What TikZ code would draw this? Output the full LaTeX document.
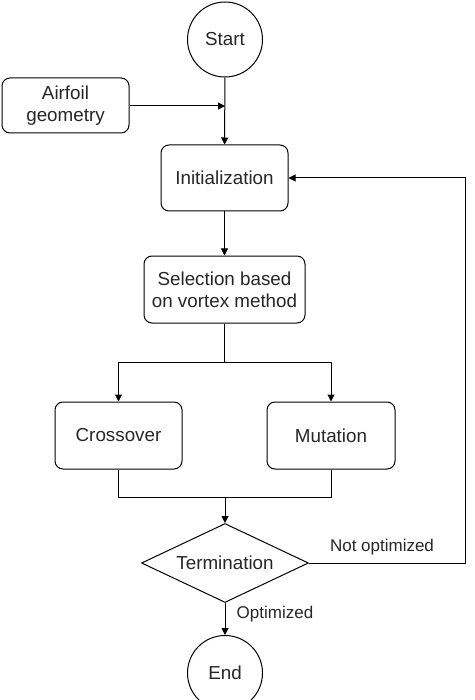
\documentclass[tikz,border=0pt]{standalone}
\usepackage{fontspec}
\setmainfont{Liberation Sans}
\usetikzlibrary{shapes.geometric,arrows.meta}
\begin{document}
\begin{tikzpicture}[x=1pt,y=-1pt,
  every node/.style={font=\fontsize{18.8}{22}\selectfont, text=black!85},
  box/.style={draw, rounded corners=8pt, line width=1pt, align=center, inner sep=0pt},
  term/.style={draw, circle, line width=1pt, minimum size=75pt, inner sep=0pt},
  dec/.style={draw, diamond, aspect=2.1, line width=1pt, minimum width=167pt, minimum height=79pt, inner sep=0pt},
  conn/.style={line width=1pt, -{Triangle[length=7pt,width=7pt]}},
  plain/.style={line width=1pt},
  lbl/.style={font=\fontsize{17}{20}\selectfont}
]
\useasboundingbox (0,0) rectangle (474,700);
\clip (0,0) rectangle (474,700);
\node[term] (start) at (225,39.5) {Start};
\node[box, minimum width=127pt, minimum height=55pt] (air) at (65.5,105.5) {Airfoil\\geometry};
\node[box, minimum width=127pt, minimum height=66pt] (init) at (224.5,178) {Initialization};
\node[box, minimum width=161pt, minimum height=67pt] (sel) at (224.5,289.5) {Selection based\\on vortex method};
\node[box, minimum width=127pt, minimum height=67pt] (cross) at (118.5,435.5) {Crossover};
\node[box, minimum width=128pt, minimum height=67pt] (mut) at (331,435.5) {Mutation};
\node[dec] (term) at (225,563) {Termination};
\node[term] (end) at (225,673) {End};
\coordinate (join1) at (225,106);
\coordinate (split) at (224.5,362);
\coordinate (merge) at (225,497);
\coordinate (fb1) at (465,563);
\coordinate (fb2) at (465,178);
\draw[conn] (start) -- (init);
\draw[conn] (air.east |- join1) -- (join1);
\draw[conn] (init) -- (sel);
\draw[plain] (sel.south) -- (split);
\draw[conn] (split) -| (cross.north);
\draw[conn] (split) -| (mut.north);
\draw[plain] (cross.south) |- (merge);
\draw[plain] (mut.south) |- (merge);
\draw[conn] (merge) -- (term.north);
\draw[conn] (term.east) -- (fb1) -- (fb2) -- (init.east);
\node[lbl, anchor=center] (notopt) at (382,547) {Not optimized};
\draw[conn] (term.south) -- (end.north);
\node[lbl, anchor=center] (opt) at (275,614) {Optimized};
\end{tikzpicture}
\end{document}
